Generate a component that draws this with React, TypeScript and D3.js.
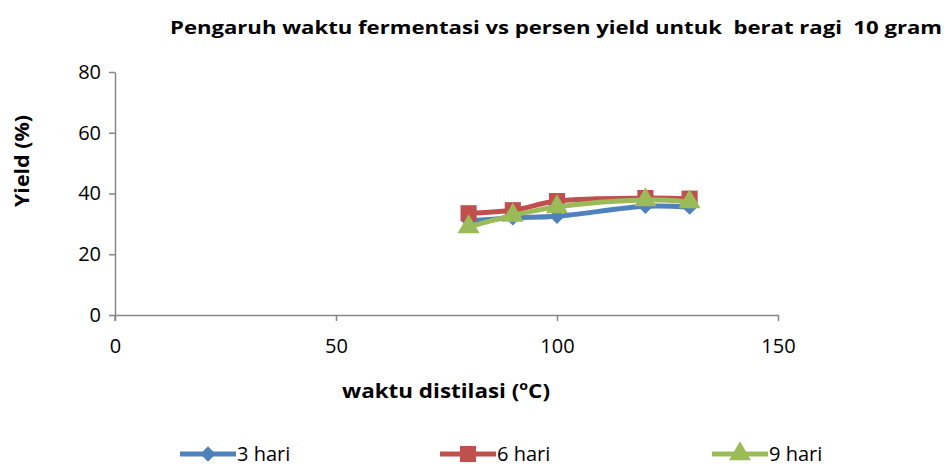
import React, { useEffect, useRef } from 'react';
import * as d3 from 'd3';

// suhu / waktu distilasi
const xValues = [80, 90, 100, 120, 130];
const hari3 = [31, 32, 32.5, 35.8, 35.5];
const hari6 = [33.5, 34.5, 37.5, 38.5, 38.3];
const hari9 = [29, 32.8, 35.6, 37.9, 37.2];
const seriesNames = ['3 hari', '6 hari', '9 hari'];
const xTicks = [0, 50, 100, 150];
const yTicks = [0, 20, 40, 60, 80];

const colors = ['#4F81BD', '#C0504D', '#9BBB59'];
const FONT = '"Open Sans", "Liberation Sans", sans-serif';

export default function App() {
  const ref = useRef<SVGSVGElement>(null);

  useEffect(() => {
    const svg = d3.select(ref.current);
    svg.selectAll('*').remove();

    const xScale = d3.scaleLinear().domain([0, 150]).range([115, 778]);
    const yScale = d3.scaleLinear().domain([0, 80]).range([315, 72]);

    // title
    svg.append('text')
      .attr('x', 170)
      .attr('y', 34)
      .attr('font-family', FONT)
      .attr('font-weight', 'bold')
      .attr('font-size', 18)
      .attr('textLength', 772)
      .attr('lengthAdjust', 'spacingAndGlyphs')
      .style('white-space', 'pre')
      .text('Pengaruh waktu fermentasi vs persen yield untuk  berat ragi  10 gram');

    // axes
    const xAxis = d3.axisBottom(xScale).tickValues(xTicks).tickSize(6).tickSizeOuter(0).tickPadding(14);
    const gx = svg.append('g').attr('transform', 'translate(0,315)').call(xAxis);
    const yAxis = d3.axisLeft(yScale).tickValues(yTicks).tickSize(6).tickSizeOuter(0).tickPadding(8);
    const gy = svg.append('g').attr('transform', 'translate(115,0)').call(yAxis);

    [gx, gy].forEach(g => {
      g.select('.domain').attr('stroke', '#868686').attr('stroke-width', 1.5);
      g.selectAll('.tick line').attr('stroke', '#868686').attr('stroke-width', 1.5);
      g.selectAll('.tick text')
        .attr('fill', '#000')
        .style('font-family', FONT)
        .style('font-size', '20px');
    });
    gx.selectAll('.tick text').attr('dy', '0.9em');
    // y-axis line runs down to the tick under 0
    gy.append('line').attr('x1', 0).attr('x2', 0).attr('y1', 315).attr('y2', 321)
      .attr('stroke', '#868686').attr('stroke-width', 1.5);

    // axis titles
    svg.append('text')
      .attr('transform', 'translate(29, 161) rotate(-90)')
      .attr('text-anchor', 'middle')
      .attr('font-family', FONT)
      .attr('font-weight', 'bold')
      .attr('font-size', 19)
      .attr('textLength', 92)
      .attr('lengthAdjust', 'spacingAndGlyphs')
      .text('Yield (%)');

    const xt = svg.append('text')
      .attr('x', 446)
      .attr('y', 398)
      .attr('text-anchor', 'middle')
      .attr('font-family', FONT)
      .attr('font-weight', 'bold')
      .attr('font-size', 19)
      .attr('textLength', 208)
      .attr('lengthAdjust', 'spacingAndGlyphs');
    xt.append('tspan').text('waktu distilasi (');
    xt.append('tspan').attr('font-size', 12).attr('dy', -8).text('o');
    xt.append('tspan').attr('dy', 8).text('C)');

    const allSeries = [hari3, hari6, hari9];
    const line = d3.line<number>()
      .x((d, i) => xScale(xValues[i]))
      .y(d => yScale(d))
      .curve(d3.curveCatmullRom.alpha(0.5));

    const symbols = [
      d3.symbol().type(d3.symbolDiamond2).size(150),
      d3.symbol().type(d3.symbolSquare).size(260),
      d3.symbol().type(d3.symbolTriangle).size(210),
    ];

    allSeries.forEach((vals, s) => {
      const g = svg.append('g');
      g.append('path')
        .attr('d', line(vals))
        .attr('fill', 'none')
        .attr('stroke', colors[s])
        .attr('stroke-width', 5);
      g.selectAll('.pt')
        .data(vals)
        .enter()
        .append('path')
        .attr('transform', (d, i) => `translate(${xScale(xValues[i])},${yScale(d)})`)
        .attr('d', symbols[s]())
        .attr('fill', colors[s]);
    });

    // legend
    const legendX = [180, 440, 712];
    seriesNames.forEach((name, s) => {
      const g = svg.append('g').attr('transform', `translate(${legendX[s]},454)`);
      g.append('line').attr('x1', 0).attr('x2', 56).attr('y1', 0).attr('y2', 0)
        .attr('stroke', colors[s]).attr('stroke-width', 5);
      g.append('path').attr('transform', 'translate(28,0)').attr('d', symbols[s]()).attr('fill', colors[s]);
      g.append('text')
        .attr('x', 57)
        .attr('y', 0)
        .attr('dy', '0.35em')
        .attr('font-family', FONT)
        .attr('font-size', 20)
        .text(name);
    });
  }, []);

  return (
    <svg ref={ref} width={944} height={466}
      style={{ position: 'absolute', left: 0, top: 0, background: '#fff' }} />
  );
}
